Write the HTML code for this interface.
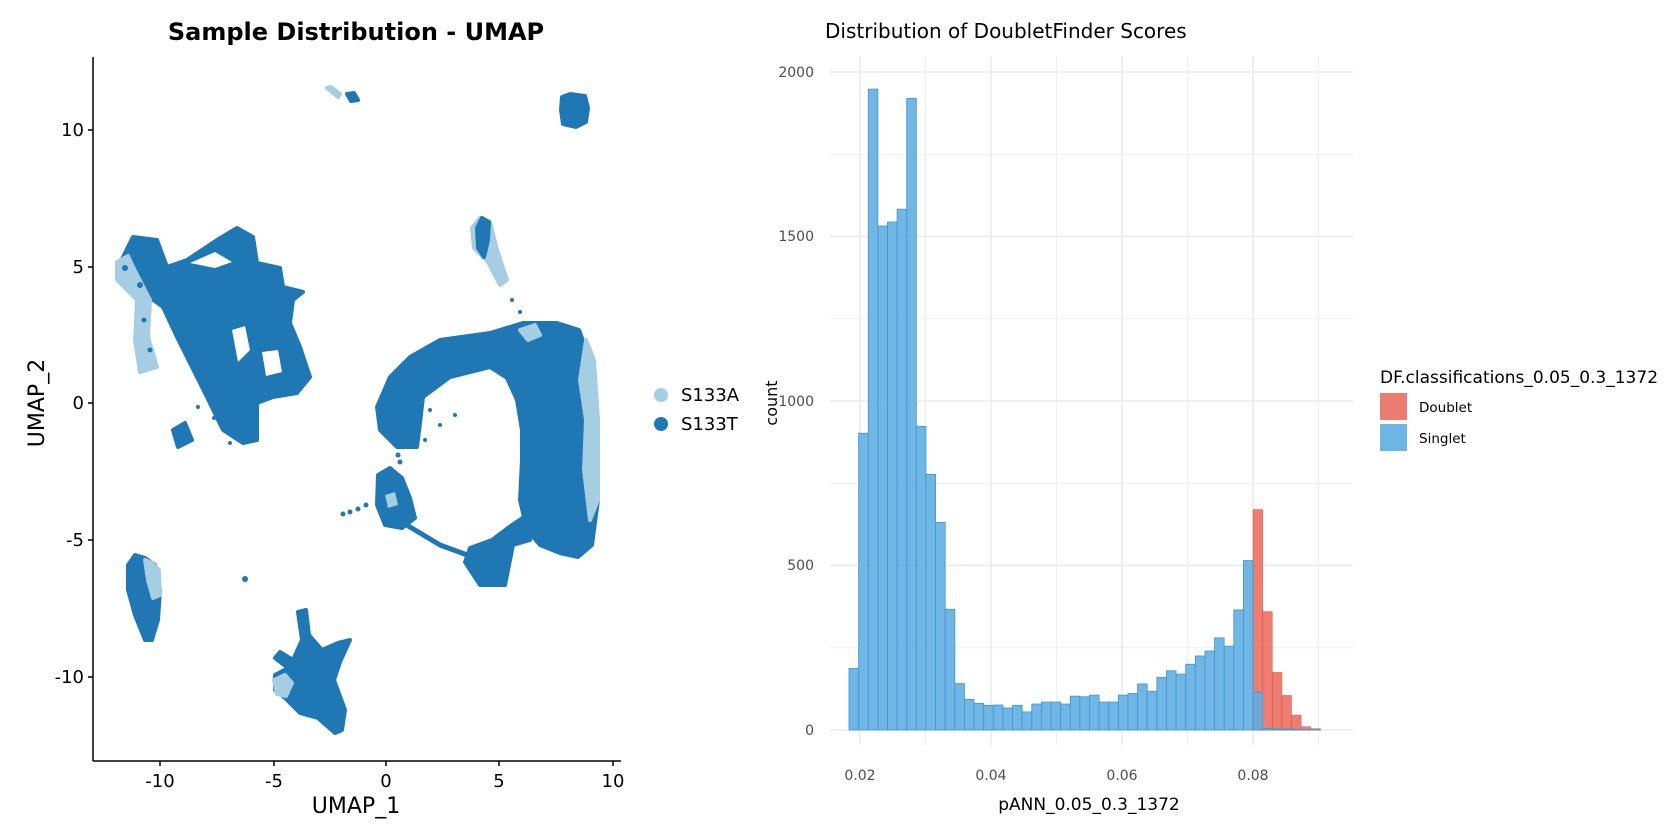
<!DOCTYPE html>
<html><head><meta charset="utf-8"><style>
html,body{margin:0;padding:0;background:#fff;}
svg{display:block;font-family:"DejaVu Sans","Liberation Sans",sans-serif;}
</style></head><body>
<svg id="s" width="1680" height="840" viewBox="0 0 1680 840" xmlns="http://www.w3.org/2000/svg">
<rect width="1680" height="840" fill="#fff"/>
<text x="356" y="40" font-size="24" font-weight="bold" text-anchor="middle" fill="#000">Sample Distribution - UMAP</text>
<g stroke-linejoin="round" stroke-width="4">
 <polygon fill="#1f78b4" stroke="#1f78b4" points="118,267 133,237 157,240 167,267 187,260 217,240 237,228 253,237 257,263 280,268 283,287 303,292 293,300 290,323 300,347 310,377 297,393 273,397 257,403 257,440 243,443 223,430 207,397 190,363 177,337 163,307 140,290 120,280"/>
 <polygon fill="#a6cee3" stroke="#a6cee3" points="117,262 128,256 133,267 150,300 148,337 157,367 140,372 135,340 137,300 117,280"/>
 <g fill="#1f78b4" stroke="none"><circle cx="125" cy="268" r="3"/><circle cx="140" cy="285" r="3"/><circle cx="144" cy="320" r="2.5"/><circle cx="150" cy="350" r="2.5"/></g>
 <polygon fill="#fff" stroke="none" points="232,330 245,326 250,350 238,362"/>
 <polygon fill="#fff" stroke="none" points="262,352 278,350 282,372 266,376"/>
 <polygon fill="#fff" stroke="none" points="190,263 215,252 232,262 215,268"/>
 <polygon fill="#1f78b4" stroke="#1f78b4" points="173,430 185,423 192,440 178,447"/>
 <!-- ring arc -->
 <polygon fill="#1f78b4" stroke="#1f78b4" points="377,407 390,377 410,357 440,340 490,333 523,323 557,323 579,330 590,360 596,400 598,440 598,500 592,545 578,557 560,553 540,545 527,530 520,500 522,460 522,430 517,400 507,378 490,367 450,377 423,397 420,423 417,447 397,447 380,430"/>
 <polygon fill="#a6cee3" stroke="#a6cee3" points="586,340 594,360 598,420 598,500 590,520 584,470 586,420 580,380"/>
 <polygon fill="#a6cee3" stroke="#a6cee3" points="520,330 535,325 540,335 528,340"/>
 <!-- bottom blob and connection -->
 <polygon fill="#1f78b4" stroke="#1f78b4" points="527,515 530,540 513,545 505,585 480,585 465,562 470,548 492,540 512,525"/>
 <!-- lower-left blob -->
 <polygon fill="#1f78b4" stroke="#1f78b4" points="378,475 390,468 402,478 410,498 415,518 402,528 385,525 377,505"/>
 <polygon fill="#a6cee3" stroke="none" points="385,495 395,492 398,505 388,508"/>
 <path d="M405,524 L440,545 L470,556" fill="none" stroke="#1f78b4" stroke-width="5"/>
 <g fill="#1f78b4" stroke="none"><circle cx="398" cy="455" r="2.5"/><circle cx="400" cy="462" r="2.5"/><circle cx="430" cy="410" r="2"/><circle cx="440" cy="425" r="2"/><circle cx="455" cy="415" r="2"/><circle cx="425" cy="440" r="2"/></g>
 <!-- mid cluster -->
 <polygon fill="#a6cee3" stroke="#a6cee3" points="472,228 480,218 490,222 497,250 507,280 500,285 488,262 474,248"/>
 <polygon fill="#1f78b4" stroke="#1f78b4" points="477,228 482,218 489,222 488,240 484,257 478,248"/>
 <polygon fill="#a6cee3" stroke="#a6cee3" points="327,88 331,87 340,94 338,97"/>
 <polygon fill="#1f78b4" stroke="#1f78b4" points="347,94 354,93 358,100 351,101"/>
 <polygon fill="#1f78b4" stroke="#1f78b4" points="562,97 570,94 585,96 588,108 586,122 576,127 563,124 561,110"/>
 <polygon fill="#1f78b4" stroke="#1f78b4" points="128,565 135,555 145,558 155,565 160,590 158,620 152,640 145,640 135,615 128,590"/>
 <polygon fill="#a6cee3" stroke="#a6cee3" points="145,560 152,563 159,570 160,595 153,598 148,580"/>
 <circle cx="245" cy="579" r="3" fill="#1f78b4"/>
 <polygon fill="#1f78b4" stroke="#1f78b4" points="298,612 306,610 309,635 322,650 338,643 350,640 340,662 334,680 345,710 342,730 335,733 318,718 300,713 285,698 275,690 275,675 288,668 275,658 280,652 293,660 302,640"/>
 <polygon fill="#a6cee3" stroke="#a6cee3" points="274,680 285,675 292,683 286,696 277,694"/>
 <g fill="#1f78b4" stroke="none"><circle cx="343" cy="514" r="2.5"/><circle cx="350" cy="512" r="2.5"/><circle cx="358" cy="509" r="2.5"/><circle cx="366" cy="505" r="2.5"/><circle cx="520" cy="312" r="2"/><circle cx="512" cy="300" r="2"/><circle cx="198" cy="407" r="2"/><circle cx="214" cy="418" r="2"/><circle cx="230" cy="443" r="2"/></g>
</g>
<line x1="93" y1="57" x2="93" y2="761" stroke="#000" stroke-width="1.5"/>
<line x1="93" y1="761" x2="621" y2="761" stroke="#000" stroke-width="1.5"/>
<g stroke="#000" stroke-width="1.5">
<line x1="160" y1="761" x2="160" y2="766"/><line x1="274" y1="761" x2="274" y2="766"/><line x1="386" y1="761" x2="386" y2="766"/><line x1="499" y1="761" x2="499" y2="766"/><line x1="613" y1="761" x2="613" y2="766"/>
<line x1="88" y1="130" x2="93" y2="130"/><line x1="88" y1="267" x2="93" y2="267"/><line x1="88" y1="403" x2="93" y2="403"/><line x1="88" y1="540" x2="93" y2="540"/><line x1="88" y1="677" x2="93" y2="677"/>
</g>
<g font-size="18" fill="#000" text-anchor="middle">
<text x="160" y="787">-10</text><text x="274" y="787">-5</text><text x="386" y="787">0</text><text x="499" y="787">5</text><text x="613" y="787">10</text>
</g>
<g font-size="18" fill="#000" text-anchor="end">
<text x="84" y="136">10</text><text x="84" y="273">5</text><text x="84" y="409">0</text><text x="84" y="546">-5</text><text x="84" y="683">-10</text>
</g>
<text x="356" y="813" font-size="22" text-anchor="middle">UMAP_1</text>
<text transform="translate(44,403) rotate(-90)" font-size="22" text-anchor="middle">UMAP_2</text>
<circle cx="661" cy="395" r="7" fill="#a6cee3"/>
<circle cx="661" cy="424" r="7" fill="#1f78b4"/>
<text x="681" y="401" font-size="18">S133A</text>
<text x="681" y="430" font-size="18">S133T</text>

<text x="825" y="38" font-size="20" fill="#000">Distribution of DoubletFinder Scores</text>
<g id="grid"></g>
<g id="bars"></g>
<g font-size="14" fill="#4d4d4d" text-anchor="end">
<text x="814" y="77">2000</text><text x="814" y="241">1500</text><text x="814" y="406">1000</text><text x="814" y="570">500</text><text x="814" y="735">0</text>
</g>
<g font-size="14" fill="#4d4d4d" text-anchor="middle">
<text x="860" y="780">0.02</text><text x="991" y="780">0.04</text><text x="1122" y="780">0.06</text><text x="1253" y="780">0.08</text>
</g>
<text x="1089" y="810" font-size="17" text-anchor="middle">pANN_0.05_0.3_1372</text>
<text transform="translate(777,403) rotate(-90)" font-size="16" text-anchor="middle">count</text>
<text x="1380" y="383" font-size="17">DF.classifications_0.05_0.3_1372</text>
<rect x="1380" y="393" width="27" height="27" fill="#ed7d72"/>
<rect x="1380" y="424" width="27" height="27" fill="#6db5e4"/>
<text x="1419" y="412" font-size="13.5">Doublet</text>
<text x="1419" y="443" font-size="13.5">Singlet</text>
</svg>
<script>
var NS="http://www.w3.org/2000/svg";
function el(p,t,a){var e=document.createElementNS(NS,t);for(var k in a)e.setAttribute(k,a[k]);p.appendChild(e);return e;}
var g=document.getElementById('grid');
var x0=830,x1=1353,yT=56,yB=745;
function Y(c){return 730-c*0.329;}
function X(v){return 860+(v-0.02)*6550;}
for(var c=0;c<=2000;c+=250){el(g,'line',{x1:x0,x2:x1,y1:Y(c),y2:Y(c),stroke:'#ebebeb','stroke-width':(c%500==0)?1.6:0.8});}
for(var v=0.02;v<=0.0901;v+=0.01){var mj=Math.round(v*100)%2==0;el(g,'line',{x1:X(v),x2:X(v),y1:yT,y2:yB,stroke:'#ebebeb','stroke-width':mj?1.6:0.8});}
var blue=[187,902,1948,1532,1544,1583,1920,923,777,631,367,141,93,81,75,76,67,75,55,79,85,85,79,103,101,106,85,85,106,111,140,118,160,180,170,200,225,240,280,255,365,515,115,5,3,3,2,1,1];
var red={42:670,43:360,44:175,45:105,46:45,47:10,48:4};
var b=document.getElementById('bars');var w=9.62,s=849;
for(var i in red){var h=red[i]*0.329;el(b,'rect',{x:s+i*w,y:730-h,width:w,height:h,fill:'#e74c3c','fill-opacity':0.72,stroke:'#e74c3c','stroke-opacity':0.8,'stroke-width':0.6});}
for(var i=0;i<blue.length;i++){var h=blue[i]*0.329;el(b,'rect',{x:s+i*w,y:730-h,width:w,height:h,fill:'#5dade2','fill-opacity':0.88,stroke:'#3f95d6','stroke-width':0.8});}
</script>
</body></html>
